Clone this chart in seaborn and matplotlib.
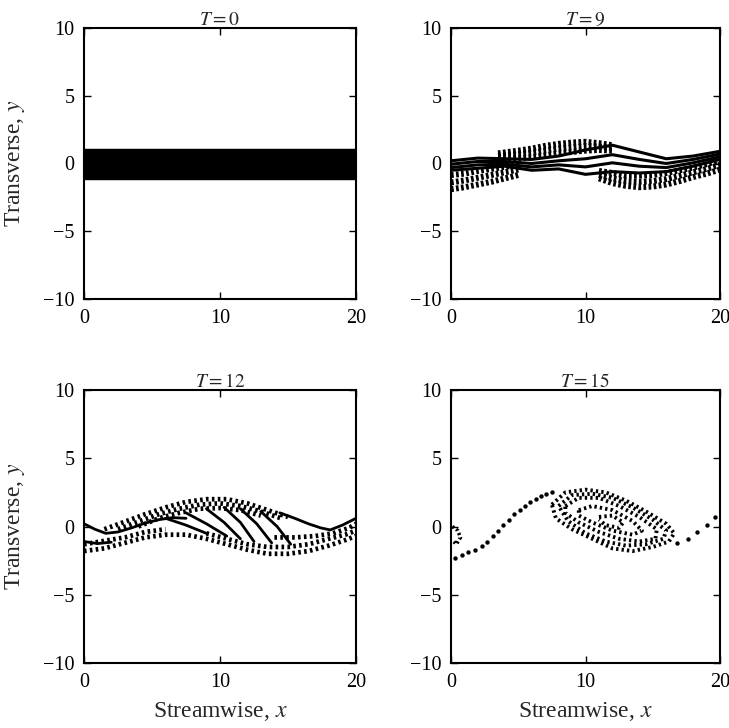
import pandas as pd
import matplotlib.pyplot as plt
import seaborn as sns

sns.set_theme(style="ticks")
plt.rcParams['font.family'] = ['Liberation Serif', 'DejaVu Serif']
plt.rcParams['mathtext.fontset'] = 'stix'

# ---- T = 0 : flat layer, rows of particles ----
t0_x = [0, 20]
t0_rows = [-1.05, -0.8, -0.55, -0.3, -0.05, 0.2, 0.45, 0.7, 0.9]

# ---- T = 9 ----
t9_x = [0, 2, 4, 6, 8, 10, 12, 14, 16, 18, 20]
t9_solid_a = [-0.5, -0.35, -0.2, -0.5, -0.4, -0.8, -0.6, -0.7, -0.6, -0.2, 0.3]
t9_solid_b = [-0.3, -0.1, -0.05, -0.25, -0.1, -0.25, 0.05, -0.2, -0.3, 0.05, 0.5]
t9_solid_c = [-0.05, 0.15, 0.15, 0.0, 0.2, 0.35, 0.65, 0.3, 0.0, 0.3, 0.7]
t9_solid_d = [0.2, 0.4, 0.35, 0.3, 0.55, 1.0, 1.35, 0.85, 0.35, 0.55, 0.9]

t9_ll_x = [0, 1, 2, 3, 4, 5]
t9_ll_1 = [-1.9, -1.75, -1.55, -1.35, -1.1, -0.85]
t9_ll_2 = [-1.4, -1.25, -1.05, -0.85, -0.65, -0.45]
t9_ll_3 = [-0.85, -0.75, -0.55, -0.4, -0.25, -0.1]

t9_up_x = [3.5, 5, 6, 7, 8, 9, 10, 11, 12]
t9_up_1 = [0.75, 0.95, 1.1, 1.3, 1.45, 1.55, 1.6, 1.5, 1.35]
t9_up_2 = [0.55, 0.7, 0.8, 0.95, 1.1, 1.2, 1.3, 1.25, 1.15]
t9_up_3 = [0.35, 0.4, 0.45, 0.6, 0.75, 0.85, 0.95, 1.0, 0.95]

t9_lr_x = [11, 12, 13, 14, 15, 16, 17, 18, 19, 20]
t9_lr_1 = [-1.1, -1.45, -1.65, -1.75, -1.7, -1.55, -1.3, -1.0, -0.75, -0.45]
t9_lr_2 = [-0.85, -1.1, -1.3, -1.35, -1.3, -1.15, -0.9, -0.65, -0.4, -0.1]
t9_lr_3 = [-0.55, -0.7, -0.9, -0.9, -0.85, -0.7, -0.5, -0.3, -0.05, 0.25]

# ---- T = 12 ----
t12_left_x = [0, 0.8, 1.6, 2.5, 3.5, 4.5, 5.5, 6.5, 7.5]
t12_left_y = [0.2, -0.2, -0.5, -0.4, -0.1, 0.25, 0.5, 0.65, 0.6]
t12_low_x = [0, 1, 2]
t12_low_y = [-1.1, -1.25, -1.15]
t12_right_x = [14.4, 15.5, 16.5, 17.4, 18.1, 19.0, 20.0]
t12_right_y = [1.0, 0.6, 0.2, -0.1, -0.25, 0.1, 0.6]
t12_diag = {
    'd1': ([6.0, 7.5, 9.0], [0.6, 0.1, -0.5]),
    'd2': ([7.5, 9.0, 10.5], [1.0, 0.2, -0.7]),
    'd3': ([9.0, 10.3, 11.5], [1.3, 0.3, -0.9]),
    'd4': ([10.3, 11.5, 12.5], [1.4, 0.3, -1.1]),
    'd5': ([11.5, 12.7, 13.8], [1.3, 0.2, -1.2]),
    'd6': ([13.0, 14.2, 15.2], [1.1, 0.0, -1.3]),
}
t12_u1_x = [1.5, 3, 4.5, 6, 7.5, 9, 10.5, 12, 13.5, 15]
t12_u1_y = [-0.2, 0.35, 0.9, 1.4, 1.8, 2.0, 2.0, 1.7, 1.2, 0.7]
t12_u2_x = [2.5, 4, 5.5, 7, 8.5, 10, 11.5, 13, 14.5]
t12_u2_y = [-0.2, 0.35, 0.9, 1.3, 1.6, 1.7, 1.5, 1.1, 0.6]
t12_u3_x = [4, 5.5, 7, 8.5, 10, 11.5, 13]
t12_u3_y = [0.0, 0.6, 1.0, 1.3, 1.35, 1.2, 0.8]
t12_l1_x = [0, 1.5, 3, 4.5, 6, 7.5, 9, 10.5, 12, 13.5, 15, 16.5, 18, 19.2, 20]
t12_l1_y = [-1.8, -1.6, -1.2, -0.8, -0.6, -0.6, -0.9, -1.3, -1.7, -2.0, -2.0, -1.8, -1.4, -1.0, -0.7]
t12_l2_x = [0, 1.5, 3, 4.5, 6]
t12_l2_y = [-1.3, -1.05, -0.8, -0.4, -0.2]
t12_l3_x = [9, 10.5, 12, 13.5, 15, 16.5, 18, 19.2, 20]
t12_l3_y = [-0.5, -0.9, -1.3, -1.5, -1.5, -1.3, -0.9, -0.6, -0.3]
t12_l4_x = [14, 15.5, 17, 18.3, 19.5, 20]
t12_l4_y = [-0.8, -0.8, -0.7, -0.5, -0.1, 0.2]

# ---- T = 15 ----
t15_braid_x = [0.3, 0.8, 1.3, 1.8, 2.3, 2.7, 3.1, 3.5, 3.9, 4.3, 4.7, 5.1, 5.5, 5.9, 6.3, 6.7, 7.1, 7.5]
t15_braid_y = [-2.3, -2.1, -1.9, -1.7, -1.4, -1.1, -0.7, -0.3, 0.1, 0.5, 0.9, 1.2, 1.5, 1.8, 2.0, 2.2, 2.4, 2.5]
t15_tail_x = [16.8, 17.6, 18.3, 19.0, 19.6]
t15_tail_y = [-1.2, -0.9, -0.4, 0.1, 0.7]
t15_edge_x = [0.1, 0.5, 0.7, 0.4, 0.1]
t15_edge_y = [0.0, -0.3, -0.8, -1.3, -1.0]
t15_loops = {
    'outer': ([7.5, 8.5, 10, 11.5, 13, 14.5, 16, 16.6, 16.2, 15, 13.5, 12, 10.5, 9, 7.8, 7.5],
              [1.6, 2.5, 2.7, 2.5, 1.9, 1.1, 0.2, -0.5, -1.1, -1.5, -1.8, -1.6, -0.9, -0.2, 0.6, 1.6]),
    'second': ([8.0, 9.0, 10.5, 12, 13.5, 15, 16.0, 15.8, 14.5, 13, 11.5, 10, 8.7, 8.0],
               [1.5, 2.3, 2.4, 2.1, 1.4, 0.5, -0.3, -0.9, -1.3, -1.4, -1.1, -0.5, 0.4, 1.5]),
    'middle': ([8.5, 9.5, 11, 12.5, 14, 15.3, 15.2, 14, 12.5, 11, 9.5, 8.5, 8.5],
               [1.5, 2.1, 2.1, 1.5, 0.7, -0.2, -0.9, -1.1, -0.9, -0.4, 0.3, 1.0, 1.5]),
    'inner': ([9.5, 10.5, 12, 13.5, 14.2, 13.5, 12, 10.5, 9.5, 9.5],
              [1.2, 1.5, 1.2, 0.4, -0.3, -0.6, -0.3, 0.3, 0.8, 1.2]),
    'core': ([11, 12, 12.8, 12.5, 11.5, 11],
             [0.7, 0.8, 0.3, -0.1, 0.1, 0.5]),
}

titles = [r'$T=0$', r'$T=9$', r'$T=12$', r'$T=15$']
x_ticks = [0, 10, 20]
y_ticks = [-10, -5, 0, 5, 10]


def to_frame(strands):
    rows = []
    for name, (xs, ys) in strands.items():
        for i, (x, y) in enumerate(zip(xs, ys)):
            rows.append((name, i, x, y))
    return pd.DataFrame(rows, columns=['strand', 'order', 'x', 'y'])


def draw(ax, strands, lw, ls='-'):
    df = to_frame(strands)
    sns.lineplot(data=df, x='x', y='y', units='strand', estimator=None,
                 sort=False, color='black', lw=lw, linestyle=ls, ax=ax,
                 legend=False)


fig = plt.figure(figsize=(7.29, 7.28), dpi=100)
boxes = [
    (84 / 729, 1 - 299 / 728, 272 / 729, 271 / 728),
    (451 / 729, 1 - 299 / 728, 269 / 729, 271 / 728),
    (84 / 729, 1 - 663 / 728, 272 / 729, 273 / 728),
    (451 / 729, 1 - 663 / 728, 269 / 729, 273 / 728),
]
axes = [fig.add_axes(b) for b in boxes]

# T = 0
draw(axes[0], {f'r{i}': (t0_x, [y, y]) for i, y in enumerate(t0_rows)}, lw=3.2)

# T = 9
draw(axes[1], {'a': (t9_x, t9_solid_a), 'b': (t9_x, t9_solid_b),
               'c': (t9_x, t9_solid_c), 'd': (t9_x, t9_solid_d)}, lw=2.2)
draw(axes[1], {'ll1': (t9_ll_x, t9_ll_1), 'll2': (t9_ll_x, t9_ll_2), 'll3': (t9_ll_x, t9_ll_3),
               'up1': (t9_up_x, t9_up_1), 'up2': (t9_up_x, t9_up_2), 'up3': (t9_up_x, t9_up_3),
               'lr1': (t9_lr_x, t9_lr_1), 'lr2': (t9_lr_x, t9_lr_2), 'lr3': (t9_lr_x, t9_lr_3)},
     lw=4.3, ls=(0, (0.45, 0.4)))

# T = 12
solid12 = {'left': (t12_left_x, t12_left_y), 'low': (t12_low_x, t12_low_y),
           'right': (t12_right_x, t12_right_y)}
solid12.update(t12_diag)
draw(axes[2], solid12, lw=2.0)
draw(axes[2], {'u1': (t12_u1_x, t12_u1_y), 'u2': (t12_u2_x, t12_u2_y), 'u3': (t12_u3_x, t12_u3_y),
               'l1': (t12_l1_x, t12_l1_y), 'l2': (t12_l2_x, t12_l2_y),
               'l3': (t12_l3_x, t12_l3_y), 'l4': (t12_l4_x, t12_l4_y)},
     lw=3.4, ls=(0, (0.55, 0.7)))

# T = 15
draw(axes[3], t15_loops, lw=2.8, ls=(0, (0.6, 0.8)))
draw(axes[3], {'edge': (t15_edge_x, t15_edge_y)}, lw=2.6, ls=(0, (0.6, 0.7)))
dots = pd.DataFrame({'x': t15_braid_x + t15_tail_x, 'y': t15_braid_y + t15_tail_y})
sns.scatterplot(data=dots, x='x', y='y', color='black', s=10, linewidth=0,
                ax=axes[3], legend=False)

for i, ax in enumerate(axes):
    ax.set_xlim(0, 20)
    ax.set_ylim(-10, 10)
    ax.set_xticks(x_ticks)
    ax.set_yticks(y_ticks)
    ax.tick_params(direction='in', top=True, right=True, length=5, width=1,
                   labelsize=14.5, pad=7, colors='black')
    for s in ax.spines.values():
        s.set_linewidth(1.5)
        s.set_color('black')
    ax.set_title(titles[i], fontsize=14, pad=2)
    ax.set_xlabel('')
    ax.set_ylabel('')
    if i in (0, 2):
        ax.set_ylabel('Transverse, $y$', fontsize=17)
        ax.yaxis.set_label_coords(-0.21, 0.5)
    if i in (2, 3):
        ax.set_xlabel('Streamwise, $x$', fontsize=17)
        ax.xaxis.set_label_coords(0.5, -0.135)

fig.savefig('out.png', dpi=100)
